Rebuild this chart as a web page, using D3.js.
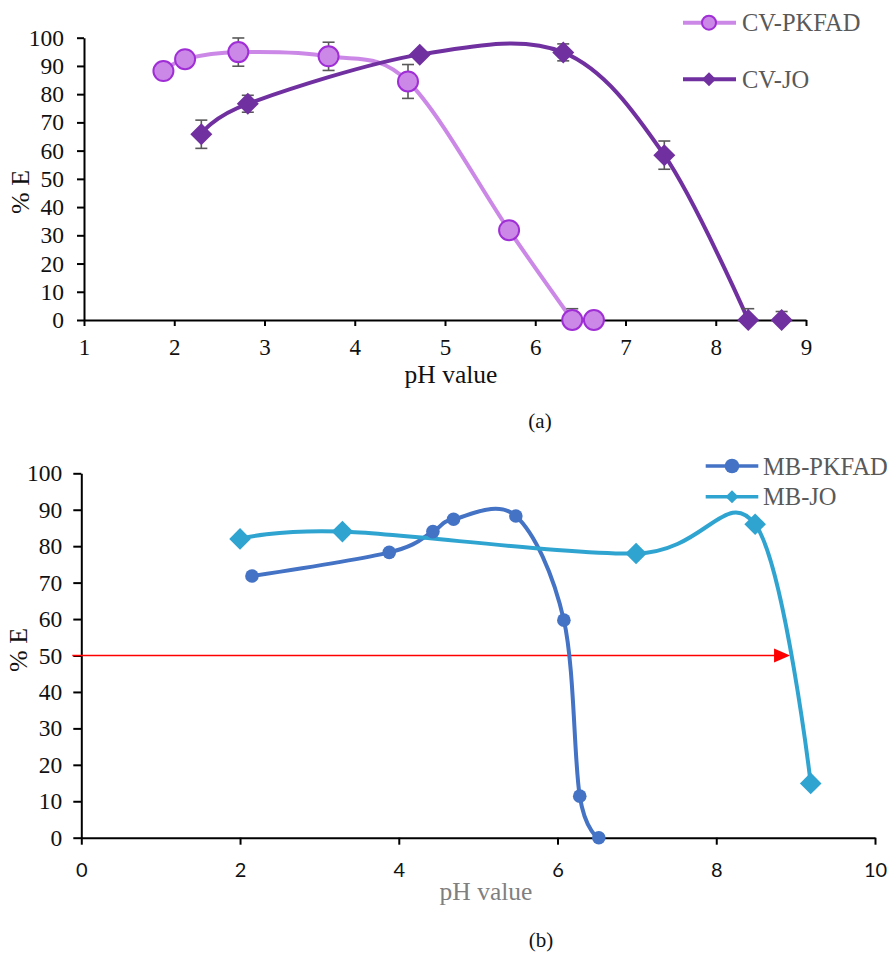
<!DOCTYPE html>
<html>
<head>
<meta charset="utf-8">
<script src="https://cdn.jsdelivr.net/npm/d3@7"></script>
<style>
  html, body { margin: 0; padding: 0; background: #fff; }
  svg { display: block; }
  .serif { font-family: "Liberation Serif", "Times New Roman", "DejaVu Serif", serif; }
  .sans { font-family: Lato, "Open Sans", sans-serif; }
</style>
</head>
<body>
<svg id="chart" width="891" height="953"></svg>
<script>
// ---------- Data (a) ----------
const cvPkfadPH  = [1.88, 2.12, 2.71, 3.71, 4.59, 5.71, 6.41, 6.65];
const cvPkfadE   = [88.2, 92.4, 94.9, 93.4, 84.5, 31.8, 0, 0];
const cvPkfadErr = [0, 0, 5, 5, 6, 0, 4, 0];

const cvJoPH  = [2.30, 2.815, 4.72, 6.31, 7.43, 8.36, 8.73];
const cvJoE   = [65.8, 76.6, 94.0, 94.8, 58.4, 0, 0];
const cvJoErr = [5, 3, 0, 3, 5, 4, 3];

const xTicksA = [1, 2, 3, 4, 5, 6, 7, 8, 9];
const yTicks  = [0, 10, 20, 30, 40, 50, 60, 70, 80, 90, 100];

// ---------- Data (b) ----------
const mbPkfadPH = [2.15, 3.88, 4.43, 4.69, 5.475, 6.08, 6.28, 6.52];
const mbPkfadE  = [71.8, 78.3, 84.0, 87.4, 88.3, 59.7, 11.4, 0];

const mbJoPH = [2.0, 3.29, 6.99, 8.49, 9.19];
const mbJoE  = [82.0, 84.0, 78.0, 86.0, 14.9];

const xTicksB = [0, 2, 4, 6, 8, 10];
const arrowFromPH = 0, arrowToPH = 8.93, arrowE = 50;

const seriesNamesA = ["CV-PKFAD", "CV-JO"];
const seriesNamesB = ["MB-PKFAD", "MB-JO"];

// ---------- Styles ----------
const C_PK_LINE = "#CC88E6", C_PK_FILL = "#CC88E6", C_PK_STROKE = "#A02ED6";
const C_JO = "#7030A0";
const C_MBPK = "#4472C4", C_MBJO = "#2FA4D1";
const C_ERR = "#595959";

const svg = d3.select("#chart");
const smooth = d3.curveCardinal.tension(0);

function diamondPath(h) { return `M0,${-h}L${h},0L0,${h}L${-h},0Z`; }

function styleAxis(a, cls, size) {
  a.attr("font-family", null).attr("font-size", null);
  a.select(".domain").attr("stroke", "#000").attr("stroke-width", 2);
  a.selectAll(".tick line").attr("stroke", "#000").attr("stroke-width", 2);
  a.selectAll(".tick text").attr("class", cls).style("font-size", size + "px").attr("fill", "#111");
}

// ================= Chart (a) =================
const xA = d3.scaleLinear().domain([1, 9]).range([84, 806]);
const yA = d3.scaleLinear().domain([0, 100]).range([320, 37.7]);
const gA = svg.append("g");

const axAx = gA.append("g").attr("transform", `translate(0,${yA(0)})`)
  .call(d3.axisBottom(xA).tickValues(xTicksA).tickFormat(d3.format("d")).tickSize(6).tickPadding(13).tickSizeOuter(0));
const ayAx = gA.append("g").attr("transform", `translate(${xA(1)},0)`)
  .call(d3.axisLeft(yA).tickValues(yTicks).tickSize(7).tickPadding(13).tickSizeOuter(0));
styleAxis(axAx, "serif", 23);
styleAxis(ayAx, "serif", 23.5);

gA.append("text").attr("class", "serif").attr("x", 451).attr("y", 383).attr("text-anchor", "middle")
  .style("font-size", "25.5px").attr("fill", "#111").text("pH value");
gA.append("text").attr("class", "serif").attr("transform", "translate(29,192) rotate(-90)").attr("text-anchor", "middle")
  .style("font-size", "26px").attr("fill", "#111").text("% E");
gA.append("text").attr("class", "serif").attr("x", 540).attr("y", 428).attr("text-anchor", "middle")
  .style("font-size", "21px").attr("fill", "#111").text("(a)");

const lineA = d3.line().x(d => xA(d[0])).y(d => yA(d[1])).curve(smooth);
const pkA = cvPkfadPH.map((p, i) => [p, cvPkfadE[i], cvPkfadErr[i]]);
const joA = cvJoPH.map((p, i) => [p, cvJoE[i], cvJoErr[i]]);

// lines stop at the first point that reaches 0 % E
const upToZero = arr => arr.slice(0, arr.findIndex(d => d[1] === 0) + 1);
gA.append("path").datum(upToZero(pkA)).attr("d", lineA).attr("fill", "none")
  .attr("stroke", C_PK_LINE).attr("stroke-width", 4);
gA.append("path").datum(upToZero(joA)).attr("d", lineA).attr("fill", "none")
  .attr("stroke", C_JO).attr("stroke-width", 4);

function errBars(g, data, xs, ys) {
  const e = g.selectAll(null).data(data.filter(d => d[2] > 0)).enter().append("g")
    .attr("stroke", C_ERR).attr("stroke-width", 1.6);
  e.append("line").attr("x1", d => xs(d[0])).attr("x2", d => xs(d[0]))
    .attr("y1", d => ys(d[1] + d[2])).attr("y2", d => ys(Math.max(0, d[1] - d[2])));
  e.append("line").attr("x1", d => xs(d[0]) - 6).attr("x2", d => xs(d[0]) + 6)
    .attr("y1", d => ys(d[1] + d[2])).attr("y2", d => ys(d[1] + d[2]));
  e.filter(d => d[1] - d[2] > 0).append("line").attr("x1", d => xs(d[0]) - 6).attr("x2", d => xs(d[0]) + 6)
    .attr("y1", d => ys(d[1] - d[2])).attr("y2", d => ys(d[1] - d[2]));
}
errBars(gA, pkA, xA, yA);
errBars(gA, joA, xA, yA);

gA.selectAll(null).data(pkA).enter().append("circle")
  .attr("cx", d => xA(d[0])).attr("cy", d => yA(d[1])).attr("r", 10)
  .attr("fill", C_PK_FILL).attr("stroke", C_PK_STROKE).attr("stroke-width", 2);
gA.selectAll(null).data(joA).enter().append("path")
  .attr("transform", d => `translate(${xA(d[0])},${yA(d[1])})`)
  .attr("d", diamondPath(11)).attr("fill", C_JO);

const legA = gA.append("g");
[[seriesNamesA[0], 22.7], [seriesNamesA[1], 79.3]].forEach(([name, ly], i) => {
  legA.append("line").attr("x1", 683).attr("x2", 736).attr("y1", ly).attr("y2", ly)
    .attr("stroke", i === 0 ? C_PK_LINE : C_JO).attr("stroke-width", 4);
  if (i === 0) legA.append("circle").attr("cx", 709).attr("cy", ly).attr("r", 7)
    .attr("fill", C_PK_FILL).attr("stroke", C_PK_STROKE).attr("stroke-width", 2);
  else legA.append("path").attr("transform", `translate(709,${ly})`).attr("d", diamondPath(7)).attr("fill", C_JO);
  legA.append("text").attr("class", "serif").attr("x", 742).attr("y", ly).attr("dy", "0.35em")
    .style("font-size", "24.5px").attr("fill", "#595959").text(name);
});

// ================= Chart (b) =================
const xB = d3.scaleLinear().domain([0, 10]).range([81.3, 875]);
const yB = d3.scaleLinear().domain([0, 100]).range([837.7, 473.3]);
const gB = svg.append("g");

const bxAx = gB.append("g").attr("transform", `translate(0,${yB(0)})`)
  .call(d3.axisBottom(xB).tickValues(xTicksB).tickFormat(d3.format("d")).tickSize(7).tickPadding(18).tickSizeOuter(0));
const byAx = gB.append("g").attr("transform", `translate(${xB(0)},0)`)
  .call(d3.axisLeft(yB).tickValues(yTicks).tickSize(8).tickPadding(11).tickSizeOuter(0));
styleAxis(bxAx, "sans", 20);
styleAxis(byAx, "serif", 23.5);

gB.append("text").attr("class", "serif").attr("x", 486).attr("y", 900).attr("text-anchor", "middle")
  .style("font-size", "25.5px").attr("fill", "#7F7F7F").text("pH value");
gB.append("text").attr("class", "serif").attr("transform", "translate(27,650) rotate(-90)").attr("text-anchor", "middle")
  .style("font-size", "26px").attr("fill", "#111").text("% E");
gB.append("text").attr("class", "serif").attr("x", 541).attr("y", 947).attr("text-anchor", "middle")
  .style("font-size", "21px").attr("fill", "#111").text("(b)");

const ay = yB(arrowE);
gB.append("line").attr("x1", xB(arrowFromPH) - 9).attr("x2", xB(arrowToPH) - 14)
  .attr("y1", ay).attr("y2", ay).attr("stroke", "#FF0000").attr("stroke-width", 1.5);
gB.append("path").attr("transform", `translate(${xB(arrowToPH)},${ay})`)
  .attr("d", "M0,0L-16,-7L-16,7Z").attr("fill", "#FF0000");

const lineB = d3.line().x(d => xB(d[0])).y(d => yB(d[1])).curve(smooth);
const pkB = mbPkfadPH.map((p, i) => [p, mbPkfadE[i]]);
const joB = mbJoPH.map((p, i) => [p, mbJoE[i]]);

gB.append("path").datum(pkB).attr("d", lineB).attr("fill", "none").attr("stroke", C_MBPK).attr("stroke-width", 4);
gB.append("path").datum(joB).attr("d", lineB).attr("fill", "none").attr("stroke", C_MBJO).attr("stroke-width", 4);

gB.selectAll(null).data(pkB).enter().append("circle")
  .attr("cx", d => xB(d[0])).attr("cy", d => yB(d[1])).attr("r", 6.8).attr("fill", C_MBPK);
gB.selectAll(null).data(joB).enter().append("path")
  .attr("transform", d => `translate(${xB(d[0])},${yB(d[1])})`)
  .attr("d", diamondPath(10.8)).attr("fill", C_MBJO);

const legB = gB.append("g");
[[seriesNamesB[0], 466], [seriesNamesB[1], 496.7]].forEach(([name, ly], i) => {
  legB.append("line").attr("x1", 705.7).attr("x2", 758.3).attr("y1", ly).attr("y2", ly)
    .attr("stroke", i === 0 ? C_MBPK : C_MBJO).attr("stroke-width", 3.5);
  if (i === 0) legB.append("circle").attr("cx", 732).attr("cy", ly).attr("r", 7.3).attr("fill", C_MBPK);
  else legB.append("path").attr("transform", `translate(732,${ly})`).attr("d", diamondPath(6.5)).attr("fill", C_MBJO);
  legB.append("text").attr("class", "serif").attr("x", 763).attr("y", ly).attr("dy", "0.35em")
    .style("font-size", "24.5px").attr("fill", "#595959").text(name);
});
</script>
</body>
</html>
